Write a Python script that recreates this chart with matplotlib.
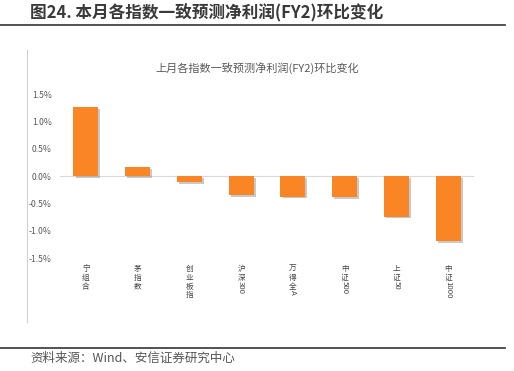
import matplotlib.pyplot as plt
import matplotlib.patheffects as pe
import matplotlib.transforms as mtransforms
from matplotlib.lines import Line2D

plt.rcParams['font.family'] = ['Noto Sans CJK SC', 'DejaVu Sans']

# 数据
cjk_parts = ['宁组合', '茅指数', '创业板指', '沪深', '万得全', '中证', '上证', '中证']
tail_parts = ['', '', '', '300', 'A', '500', '50', '1000']
values = [1.26, 0.165, -0.11, -0.35, -0.37, -0.38, -0.74, -1.19]
yticks = [-1.5, -1.0, -0.5, 0.0, 0.5, 1.0, 1.5]

W, H = 514, 371
fig = plt.figure(figsize=(W / 100, H / 100), dpi=100)
fig.patch.set_facecolor('white')

# 外框标题与分隔线
fig.text(30 / W, 1 - 13 / H, '图24. 本月各指数一致预测净利润(FY2)环比变化',
         fontsize=12, fontweight='bold', color='#3a3a3a', va='center', ha='left')
fig.add_artist(Line2D([0, 505 / W], [1 - 25 / H, 1 - 25 / H], color='#444444', lw=1.3))
fig.add_artist(Line2D([0, 505 / W], [1 - 348 / H, 1 - 348 / H], color='#444444', lw=1.3))
fig.add_artist(Line2D([27 / W, 27 / W], [1 - 50 / H, 1 - 322 / H], color='#d0d0d0', lw=0.8))
fig.text(30 / W, 1 - 358 / H, '资料来源：Wind、安信证券研究中心',
         fontsize=9, color='#555555', va='center', ha='left', style='italic')

# 图表标题
fig.text(257 / W, 1 - 68 / H, '上月各指数一致预测净利润(FY2)环比变化',
         fontsize=8, color='#595959', va='center', ha='center')

left, right = 60 / W, 474 / W
top, bottom = 1 - 94.3 / H, 1 - 258.3 / H
ax = fig.add_axes([left, bottom, right - left, top - bottom])

x = list(range(len(values)))
bars = ax.bar(x, values, width=0.48, color='#FA8525', zorder=3)
for b in bars:
    b.set_path_effects([pe.SimplePatchShadow(offset=(1.5, -1.2), shadow_rgbFace='#888888', alpha=0.45),
                        pe.Normal()])

ax.axhline(0, color='#d9d9d9', lw=0.8, zorder=1)
ax.set_xlim(-0.5, len(values) - 0.5)
ax.set_ylim(-1.5, 1.5)
ax.set_yticks(yticks)
ax.set_yticklabels([f'{v:.1f}%' for v in yticks], fontsize=6.2, color='#595959')
ax.tick_params(axis='y', length=0, pad=6)
ax.set_xticks([])
for s in ax.spines.values():
    s.set_visible(False)

# 竖排分类标签：汉字逐字竖排，数字/字母旋转接在后面
trans = mtransforms.blended_transform_factory(ax.transData, fig.transFigure)
y0 = 1 - 265 / H
pitch = 6.3  # points per character
for i, (c, t) in enumerate(zip(cjk_parts, tail_parts)):
    last = None
    for k, ch in enumerate(c):
        last = ax.annotate(ch, xy=(i, y0), xycoords=trans, xytext=(0, -k * pitch),
                           textcoords='offset points', ha='center', va='top',
                           fontsize=5.5, color='#444444', annotation_clip=False)
    if t:
        ax.annotate(t, xy=(0.5, 0), xycoords=last, xytext=(0, 0.5),
                    textcoords='offset points', ha='center', va='top', rotation=-90,
                    fontsize=5.6, color='#444444', annotation_clip=False)

fig.savefig('out.png', dpi=100)
